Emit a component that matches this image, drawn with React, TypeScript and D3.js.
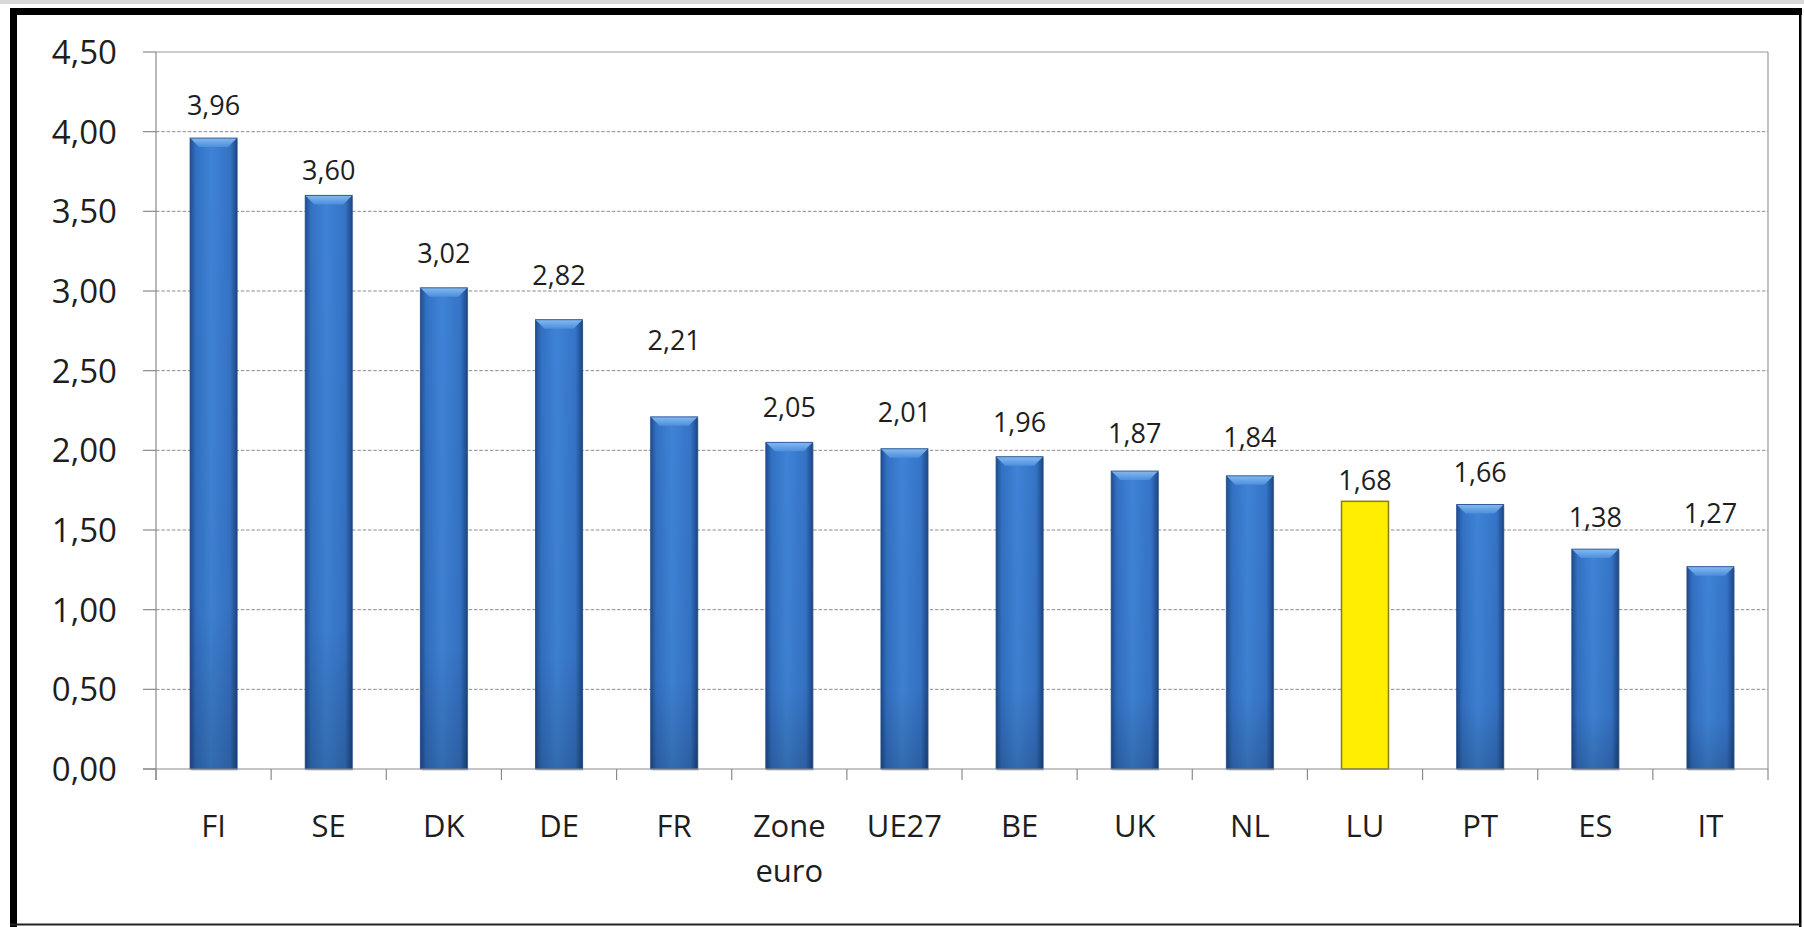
import React from "react";
import * as d3 from "d3";

const categories = ["FI", "SE", "DK", "DE", "FR", "Zone euro", "UE27", "BE", "UK", "NL", "LU", "PT", "ES", "IT"];
const values = [3.96, 3.6, 3.02, 2.82, 2.21, 2.05, 2.01, 1.96, 1.87, 1.84, 1.68, 1.66, 1.38, 1.27];
// where each value label sits (baseline), in axis units, as placed in the original
const labelAnchors = [4.105, 3.697, 3.176, 3.038, 2.63, 2.209, 2.178, 2.115, 2.046, 2.021, 1.751, 1.801, 1.519, 1.544];
const highlighted = ["LU"];
const yTicks = [0, 0.5, 1, 1.5, 2, 2.5, 3, 3.5, 4, 4.5];

const W = 1804;
const H = 927;
const plot = { left: 156, right: 1768, top: 52, bottom: 769 };
const FONT = "'Open Sans', 'Noto Sans', sans-serif";
const fmt = (v: number) => v.toFixed(2).replace(".", ",");

export default function App() {
  const x = d3
    .scaleBand<string>()
    .domain(categories)
    .range([plot.left, plot.right])
    .paddingInner(0.592)
    .paddingOuter(0.296);
  const y = d3.scaleLinear().domain([0, 4.5]).range([plot.bottom, plot.top]);
  const step = x.step();
  const bw = x.bandwidth();
  const boundaries = d3.range(categories.length + 1).map((i) => plot.left + i * step);

  return (
    <div style={{ position: "absolute", left: 0, top: 0, width: W, height: H, background: "#fff" }}>
      <svg width={W} height={H} style={{ display: "block" }}>
        <defs>
          <linearGradient id="barGrad" x1="0" y1="0" x2="1" y2="0">
            <stop offset="0" stopColor="#1f4d92" />
            <stop offset="0.12" stopColor="#3270c2" />
            <stop offset="0.45" stopColor="#3f83d6" />
            <stop offset="0.85" stopColor="#3573c6" />
            <stop offset="1" stopColor="#1d4786" />
          </linearGradient>
          <linearGradient id="barShade" x1="0" y1="0" x2="0" y2="1">
            <stop offset="0" stopColor="#000" stopOpacity="0" />
            <stop offset="0.75" stopColor="#000" stopOpacity="0.03" />
            <stop offset="1" stopColor="#000" stopOpacity="0.18" />
          </linearGradient>
          <linearGradient id="bevelGrad" x1="0" y1="0" x2="0" y2="1">
            <stop offset="0" stopColor="#8cc2f5" />
            <stop offset="1" stopColor="#4f90dc" />
          </linearGradient>
        </defs>

        <rect x={0} y={0} width={W} height={H} fill="#fff" />
        <rect x={0} y={0} width={W} height={4} fill="#d8d8d8" />

        {/* gridlines */}
        {yTicks
          .filter((t) => t > 0 && t < 4.5)
          .map((t) => (
            <line
              key={"g" + t}
              x1={plot.left}
              x2={plot.right}
              y1={y(t)}
              y2={y(t)}
              stroke="#8c8c8c"
              strokeWidth={1}
              strokeDasharray="3.5,1.8"
            />
          ))}
        {/* plot area border top & right */}
        <line x1={plot.left} x2={plot.right} y1={y(4.5)} y2={y(4.5)} stroke="#9a9a9a" strokeWidth={1.2} />
        <line x1={plot.right} x2={plot.right} y1={y(4.5)} y2={plot.bottom} stroke="#9a9a9a" strokeWidth={1.2} />

        {/* bars */}
        {categories.map((c, i) => {
          const x0 = x(c)!;
          const y0 = y(values[i]);
          const h = plot.bottom - y0;
          const hl = highlighted.includes(c);
          if (hl) {
            return (
              <rect
                key={c}
                x={x0}
                y={y0}
                width={bw}
                height={h}
                fill="#ffee00"
                stroke="#8a7c10"
                strokeWidth={1.5}
              />
            );
          }
          const bev = Math.min(9, h / 2);
          return (
            <g key={c}>
              <rect x={x0 + 1} y={y0 + 2} width={bw} height={h} fill="#000" opacity={0.12} />
              <rect x={x0} y={y0} width={bw} height={h} fill="url(#barGrad)" />
              <rect x={x0} y={y0} width={bw} height={h} fill="url(#barShade)" />
              <polygon
                points={`${x0},${y0} ${x0 + bw},${y0} ${x0 + bw - bev},${y0 + bev} ${x0 + bev},${y0 + bev}`}
                fill="url(#bevelGrad)"
                opacity={0.9}
              />
              <rect x={x0} y={y0} width={bw} height={h} fill="none" stroke="#1c4582" strokeWidth={1} opacity={0.8} />
            </g>
          );
        })}

        {/* axes */}
        <line x1={plot.left} x2={plot.left} y1={y(4.5)} y2={plot.bottom + 11} stroke="#8a8a8a" strokeWidth={1.2} />
        <line x1={plot.left - 13} x2={plot.right} y1={plot.bottom} y2={plot.bottom} stroke="#8a8a8a" strokeWidth={1.2} />
        {yTicks.map((t) => (
          <line key={"yt" + t} x1={plot.left - 13} x2={plot.left} y1={y(t)} y2={y(t)} stroke="#8a8a8a" strokeWidth={1.2} />
        ))}
        {boundaries.map((bx, i) => (
          <line key={"xt" + i} x1={bx} x2={bx} y1={plot.bottom} y2={plot.bottom + 11} stroke="#8a8a8a" strokeWidth={1.2} />
        ))}

        {/* y labels */}
        {yTicks.map((t) => (
          <text
            key={"yl" + t}
            x={117}
            y={y(t) + 12}
            textAnchor="end"
            fontFamily={FONT}
            fontSize={33}
            fill="#1e1e1e"
          >
            {fmt(t)}
          </text>
        ))}

        {/* value labels */}
        {categories.map((c, i) => (
          <text
            key={"vl" + c}
            x={x(c)! + bw / 2}
            y={y(labelAnchors[i])}
            textAnchor="middle"
            fontFamily={FONT}
            fontSize={27}
            fill="#1e1e1e"
          >
            {fmt(values[i])}
          </text>
        ))}

        {/* category labels */}
        {categories.map((c) => {
          const lines = c.split(" ");
          return (
            <text
              key={"cl" + c}
              x={x(c)! + bw / 2}
              y={837}
              textAnchor="middle"
              fontFamily={FONT}
              fontSize={31}
              fill="#1e1e1e"
            >
              {lines.map((ln, j) => (
                <tspan key={j} x={x(c)! + bw / 2} dy={j === 0 ? 0 : 45}>
                  {ln}
                </tspan>
              ))}
            </text>
          );
        })}

        {/* outer frame */}
        <rect x={10} y={8} width={1792} height={7} fill="#000" />
        <rect x={10} y={8} width={7} height={H - 8} fill="#000" />
        <rect x={1799} y={8} width={2.5} height={H - 8} fill="#000" />
        <rect x={10} y={923.5} width={1791} height={2} fill="#222" />
      </svg>
    </div>
  );
}
